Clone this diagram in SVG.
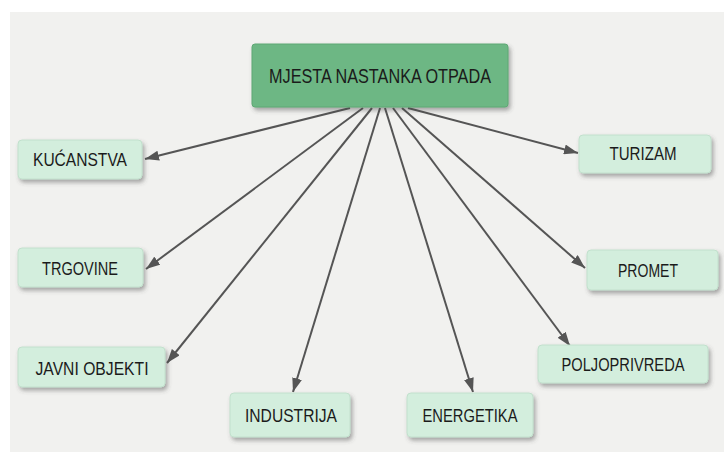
<svg xmlns="http://www.w3.org/2000/svg" width="724" height="452" viewBox="0 0 724 452">
<defs>
<style>
.box{fill:#d3eedd;stroke:#c2e0cd;stroke-width:1}
.main{fill:#6db784;stroke:#5ea874;stroke-width:1}
.lbl{font-family:"Liberation Sans Narrow","Liberation Sans",Arial,sans-serif;font-size:19px;fill:#1b1b1b;text-anchor:middle}
.mlbl{font-family:"Liberation Sans Narrow","Liberation Sans",Arial,sans-serif;font-size:21px;fill:#1b1b1b;text-anchor:middle}
.conn line{stroke:#555555;stroke-width:2;fill:none;marker-end:url(#ah)}
</style>
<filter id="sh" x="-10%" y="-20%" width="125%" height="160%">
<feDropShadow dx="2" dy="3" stdDeviation="2" flood-color="#444" flood-opacity="0.45"/>
</filter>
<marker id="ah" markerUnits="userSpaceOnUse" markerWidth="14" markerHeight="10" refX="14" refY="5" orient="auto">
<path d="M0,0 L14,5 L0,10 Z" fill="#555555"/>
</marker>
</defs>
<rect x="0" y="0" width="724" height="452" fill="#ffffff"/>
<rect x="10" y="12" width="714" height="440" fill="#f1f1ef"/>
<g id="connectors" class="conn">
<line x1="350" y1="108" x2="145" y2="159"/>
<line x1="363" y1="108" x2="146" y2="269"/>
<line x1="372" y1="108" x2="167" y2="363"/>
<line x1="380" y1="108" x2="293" y2="392"/>
<line x1="385" y1="108" x2="473" y2="392"/>
<line x1="393" y1="108" x2="570" y2="346"/>
<line x1="402" y1="108" x2="585" y2="268"/>
<line x1="408" y1="108" x2="578" y2="153"/>
</g>
<g id="mjesta">
<rect class="main" x="252" y="44" width="256" height="63" rx="3" filter="url(#sh)"/>
<text class="mlbl" x="380" y="83" textLength="222" lengthAdjust="spacingAndGlyphs">MJESTA NASTANKA OTPADA</text>
</g>
<g id="kucanstva">
<rect class="box" x="18" y="140" width="124" height="39" rx="4" filter="url(#sh)"/>
<text class="lbl" x="80" y="166" textLength="94" lengthAdjust="spacingAndGlyphs">KUĆANSTVA</text>
</g>
<g id="turizam">
<rect class="box" x="579" y="135" width="132" height="38" rx="4" filter="url(#sh)"/>
<text class="lbl" x="643" y="160" textLength="67" lengthAdjust="spacingAndGlyphs">TURIZAM</text>
</g>
<g id="trgovine">
<rect class="box" x="18" y="248" width="125" height="39" rx="4" filter="url(#sh)"/>
<text class="lbl" x="80" y="275" textLength="76" lengthAdjust="spacingAndGlyphs">TRGOVINE</text>
</g>
<g id="promet">
<rect class="box" x="587" y="250" width="131" height="40" rx="4" filter="url(#sh)"/>
<text class="lbl" x="648" y="277" textLength="60" lengthAdjust="spacingAndGlyphs">PROMET</text>
</g>
<g id="javni-objekti">
<rect class="box" x="18" y="347" width="147" height="40" rx="4" filter="url(#sh)"/>
<text class="lbl" x="92" y="375" textLength="113" lengthAdjust="spacingAndGlyphs">JAVNI OBJEKTI</text>
</g>
<g id="industrija">
<rect class="box" x="230" y="393" width="120" height="44" rx="4" filter="url(#sh)"/>
<text class="lbl" x="291" y="422" textLength="92" lengthAdjust="spacingAndGlyphs">INDUSTRIJA</text>
</g>
<g id="energetika">
<rect class="box" x="407" y="393" width="126" height="44" rx="4" filter="url(#sh)"/>
<text class="lbl" x="470" y="422" textLength="95" lengthAdjust="spacingAndGlyphs">ENERGETIKA</text>
</g>
<g id="poljoprivreda">
<rect class="box" x="538" y="345" width="170" height="38" rx="4" filter="url(#sh)"/>
<text class="lbl" x="623" y="371" textLength="123" lengthAdjust="spacingAndGlyphs">POLJOPRIVREDA</text>
</g>
</svg>
